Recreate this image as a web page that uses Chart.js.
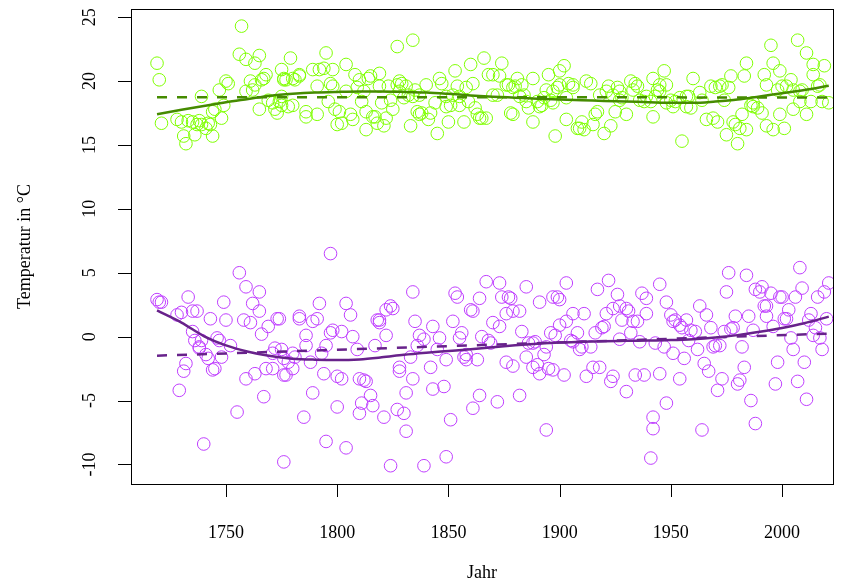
<!DOCTYPE html>
<html>
<head>
<meta charset="utf-8">
<script src="https://cdn.jsdelivr.net/npm/chart.js@4/dist/chart.umd.min.js"></script>
<style>
    html, body { margin: 0; padding: 0; background: #fff; }
    canvas { display: block; }
</style>
</head>
<body>
<canvas id="chart" width="843" height="582"></canvas>
<script>
/* === DATA === */
// July mean temperature per year
const julyYears = [
    1719, 1720, 1721, 1728, 1730, 1731, 1732, 1733, 1735, 1736, 1737, 1738, 1739, 1739, 1741,
    1742, 1743, 1744, 1744, 1745, 1747, 1748, 1749, 1750, 1751, 1756, 1757, 1759, 1759, 1761,
    1762, 1763, 1763, 1765, 1765, 1766, 1767, 1768, 1769, 1771, 1772, 1773, 1774, 1775, 1775,
    1776, 1776, 1777, 1779, 1780, 1781, 1783, 1783, 1778, 1780, 1775, 1786, 1786, 1789, 1791,
    1791, 1792, 1794, 1795, 1797, 1798, 1798, 1796, 1799, 1801, 1800, 1802, 1804, 1804, 1806,
    1807, 1808, 1809, 1810, 1811, 1812, 1813, 1814, 1815, 1813, 1816, 1817, 1818, 1819, 1819,
    1820, 1821, 1822, 1823, 1824, 1825, 1827, 1827, 1828, 1828, 1829, 1830, 1831, 1832, 1833,
    1834, 1834, 1835, 1836, 1837, 1837, 1838, 1840, 1841, 1842, 1844, 1845, 1846, 1847, 1849,
    1849, 1850, 1851, 1852, 1853, 1854, 1855, 1855, 1857, 1858, 1859, 1860, 1861, 1862, 1863,
    1864, 1865, 1866, 1867, 1868, 1870, 1870, 1872, 1873, 1874, 1876, 1877, 1878, 1879, 1879,
    1880, 1881, 1882, 1883, 1884, 1885, 1886, 1888, 1888, 1890, 1891, 1892, 1893, 1894, 1895,
    1896, 1897, 1898, 1897, 1899, 1900, 1900, 1902, 1903, 1903, 1904, 1906, 1906, 1908, 1909,
    1910, 1911, 1912, 1914, 1915, 1916, 1917, 1918, 1920, 1921, 1922, 1923, 1924, 1925, 1926,
    1927, 1927, 1928, 1930, 1932, 1933, 1934, 1935, 1936, 1938, 1939, 1941, 1942, 1942, 1943,
    1944, 1945, 1945, 1947, 1948, 1948, 1950, 1951, 1952, 1954, 1955, 1957, 1957, 1958, 1960,
    1959, 1963, 1964, 1966, 1968, 1969, 1970, 1971, 1972, 1973, 1974, 1975, 1976, 1977, 1978,
    1979, 1980, 1981, 1982, 1983, 1984, 1984, 1986, 1987, 1987, 1989, 1991, 1992, 1993, 1993,
    1995, 1996, 1996, 1998, 1999, 1999, 2000, 2001, 2002, 2004, 2005, 2005, 2007, 2008, 2008,
    2009, 2011, 2011, 2013, 2014, 2014, 2016, 2017, 2018, 2019, 2021
];
const julyTemps = [
    21.4, 20.1, 16.7, 17.0, 16.8, 15.7, 15.1, 16.9, 16.8, 15.8, 16.6, 16.9, 16.6, 18.8, 16.3,
    16.7, 16.6, 15.7, 17.6, 17.8, 19.3, 17.1, 18.1, 20.0, 19.8, 22.1, 24.3, 19.2, 21.7, 20.0,
    19.3, 19.7, 21.4, 22.0, 17.8, 20.1, 20.2, 20.5, 18.5, 18.3, 17.8, 17.5, 18.4, 18.1, 20.9,
    20.1, 20.2, 20.1, 21.8, 20.2, 20.1, 20.4, 20.5, 18.0, 18.1, 18.8, 17.6, 17.2, 20.9, 17.4,
    19.6, 20.9, 21.0, 22.2, 19.8, 20.9, 19.6, 18.4, 17.8, 17.6, 16.6, 16.7, 21.3, 19.2, 17.4,
    17.0, 20.5, 19.5, 20.1, 18.4, 19.2, 17.6, 20.2, 20.4, 16.2, 17.2, 17.2, 16.7, 20.6, 19.6,
    18.3, 16.5, 17.1, 19.6, 18.5, 17.8, 22.7, 19.7, 20.0, 19.2, 19.8, 18.7, 19.6, 18.9, 16.5,
    18.8, 23.2, 19.3, 17.6, 17.4, 18.9, 17.5, 19.7, 17.0, 17.5, 18.3, 15.9, 20.2, 19.8, 18.8,
    18.0, 16.8, 18.1, 18.9, 20.8, 19.6, 18.8, 18.1, 16.8, 19.5, 18.4, 21.3, 19.8, 17.9, 17.4,
    17.1, 17.1, 21.8, 17.1, 20.5, 20.5, 18.9, 18.9, 20.4, 21.4, 19.7, 19.7, 17.5, 17.4, 19.5,
    19.6, 20.2, 18.8, 19.7, 18.9, 18.4, 17.9, 20.2, 16.8, 18.4, 18.0, 18.1, 18.7, 19.3, 20.5,
    18.5, 19.2, 15.7, 18.3, 19.5, 19.7, 20.8, 21.2, 17.0, 18.7, 19.8, 19.7, 19.5, 16.3, 16.3,
    16.8, 16.2, 20.0, 19.8, 16.6, 17.4, 17.6, 18.9, 15.9, 19.2, 19.6, 16.5, 18.9, 17.6, 19.5,
    19.2, 18.5, 18.7, 17.4, 20.0, 19.3, 19.8, 19.6, 18.5, 18.4, 18.8, 18.4, 20.2, 17.2, 18.8,
    19.3, 19.7, 19.2, 20.8, 19.7, 18.3, 18.5, 18.0, 18.4, 18.7, 15.3, 18.8, 18.0, 18.8, 20.2,
    17.9, 19.1, 18.5, 17.0, 19.6, 17.1, 19.5, 16.8, 19.6, 19.7, 18.5, 15.8, 19.5, 20.4, 16.8,
    16.6, 15.1, 16.3, 17.4, 20.4, 21.4, 16.2, 18.1, 18.0, 18.3, 17.9, 17.5, 20.5, 19.7, 16.5,
    22.8, 21.4, 16.2, 19.3, 17.4, 20.8, 19.6, 16.3, 19.6, 20.1, 17.8, 19.3, 23.2, 18.4, 19.2,
    19.3, 22.2, 17.4, 18.4, 20.5, 21.3, 19.6, 19.7, 18.4, 21.2, 18.3
];

// January mean temperature per year
const janYears = [
    1719, 1720, 1721, 1728, 1730, 1731, 1732, 1733, 1735, 1735, 1737, 1736, 1738, 1738, 1739,
    1729, 1740, 1741, 1742, 1743, 1744, 1745, 1746, 1747, 1748, 1749, 1750, 1752, 1755, 1756,
    1758, 1759, 1759, 1761, 1762, 1763, 1765, 1765, 1766, 1767, 1768, 1769, 1771, 1771, 1772,
    1773, 1775, 1776, 1776, 1774, 1776, 1777, 1778, 1780, 1780, 1781, 1783, 1783, 1785, 1786,
    1786, 1788, 1789, 1789, 1791, 1792, 1793, 1794, 1795, 1795, 1797, 1797, 1798, 1800, 1800,
    1802, 1802, 1804, 1804, 1806, 1807, 1809, 1810, 1810, 1811, 1812, 1813, 1815, 1816, 1817,
    1818, 1819, 1819, 1821, 1822, 1822, 1824, 1825, 1824, 1827, 1828, 1828, 1830, 1831, 1831,
    1833, 1834, 1834, 1835, 1836, 1837, 1839, 1839, 1842, 1843, 1843, 1845, 1846, 1848, 1849,
    1849, 1851, 1852, 1853, 1854, 1855, 1856, 1857, 1858, 1858, 1860, 1861, 1861, 1863, 1864,
    1864, 1865, 1867, 1868, 1869, 1870, 1872, 1873, 1873, 1874, 1876, 1876, 1877, 1878, 1879,
    1879, 1882, 1882, 1883, 1885, 1885, 1886, 1888, 1888, 1889, 1890, 1891, 1891, 1893, 1894,
    1894, 1895, 1896, 1897, 1897, 1898, 1899, 1900, 1900, 1902, 1903, 1903, 1905, 1906, 1906,
    1908, 1909, 1910, 1911, 1912, 1914, 1915, 1916, 1917, 1918, 1919, 1920, 1921, 1922, 1923,
    1924, 1924, 1926, 1927, 1927, 1928, 1930, 1930, 1931, 1932, 1933, 1934, 1935, 1936, 1937,
    1938, 1939, 1939, 1941, 1942, 1942, 1943, 1945, 1945, 1947, 1948, 1948, 1950, 1951, 1951,
    1952, 1954, 1954, 1955, 1956, 1957, 1958, 1959, 1961, 1962, 1963, 1964, 1965, 1966, 1967,
    1968, 1969, 1970, 1971, 1972, 1973, 1974, 1975, 1976, 1977, 1978, 1979, 1980, 1981, 1982,
    1983, 1984, 1985, 1986, 1987, 1988, 1988, 1990, 1991, 1992, 1993, 1993, 1995, 1996, 1997,
    1998, 1999, 2000, 2001, 2002, 2003, 2004, 2005, 2006, 2007, 2008, 2009, 2010, 2011, 2012,
    2013, 2014, 2015, 2016, 2017, 2018, 2019, 2020, 2021
];
const janTemps = [
    2.9, 2.7, 2.7, 1.7, 1.9, -2.7, -2.1, 3.1, 0.4, 2.0, 2.0, -0.3, -0.8, -0.9, -0.3,
    -4.2, -8.4, -1.4, -1.7, 1.4, -2.6, -2.5, -0.1, -0.3, -1.6, 2.7, 1.3, -0.7, -5.9, 5.0,
    1.3, 3.9, -3.3, 1.1, 2.6, -2.9, 3.5, 2.0, 0.2, -4.7, -2.5, 0.8, -1.3, -2.5, -0.9,
    1.4, -1.0, -3.0, -9.8, 1.4, -1.7, -3.0, -2.0, -1.3, -2.5, -1.6, 1.4, 1.6, -6.3, -0.7,
    0.1, -2.0, 1.2, -4.4, 1.4, 2.6, -1.3, -2.9, -0.7, -8.2, 6.5, 0.3, 0.5, -3.1, -5.5,
    0.4, -3.3, -8.7, 2.6, 1.7, 0.0, -1.0, -6.0, -3.3, -5.2, -3.4, -3.5, -4.6, -5.4, -0.7,
    1.3, 1.1, 1.3, -6.3, 0.1, 2.1, 2.4, 2.2, -10.1, -5.7, -2.4, -2.7, -6.0, -7.4, -4.4,
    -1.6, -3.3, 3.5, 1.2, -0.7, 0.1, -0.2, -10.1, -2.4, -4.1, 0.8, -1.0, -0.1, -3.9, -9.4,
    -1.8, -6.5, 1.2, 3.4, 3.1, -0.1, 0.3, -1.6, -1.8, -1.4, 2.1, 2.0, -5.6, -1.8, 3.0,
    -4.6, 0.0, 4.3, -0.3, -0.5, 1.1, -5.1, 0.8, 4.2, 3.1, 1.8, -2.0, 3.1, 3.0, 2.0,
    -2.3, -4.6, 2.0, 0.4, 3.9, -1.6, -0.5, -0.5, -2.4, -0.4, -2.2, 2.7, -2.9, -1.4, -7.3,
    -0.8, -2.5, 0.3, -2.6, 3.1, 0.1, 3.1, 2.9, 0.9, -3.0, 4.2, 1.2, -0.3, -0.4, 1.8,
    0.3, -1.0, -0.8, 1.8, -3.1, -0.8, -2.4, 0.3, 3.7, -2.4, 0.7, 0.8, 1.8, 4.4, -3.5,
    2.2, -3.1, 3.3, -0.2, 2.4, 1.3, -4.3, 2.2, 2.0, 0.3, 1.2, -3.0, 1.2, -0.4, 3.4,
    -3.0, 1.8, 3.0, -9.5, -6.3, -7.2, -0.5, 4.1, -2.9, -0.8, -5.2, 2.7, 1.7, -1.3, 1.2,
    1.3, 0.9, -3.3, 0.7, -1.7, 1.3, -0.3, 0.5, 0.4, -1.0, 2.4, -7.3, -2.1, 1.7, -2.7,
    0.7, -0.8, -0.7, -4.2, -0.7, -3.3, 0.4, 3.5, 5.0, 0.6, 0.7, 1.6, -3.7, -3.4, -0.8,
    -2.4, 4.8, 1.6, -5.0, 0.5, -6.8, 3.7, 3.5, 3.9, 2.4, 1.6, 2.4, 3.4, 0.8, -3.7,
    -2.0, 3.1, 3.1, 1.4, 1.4, 2.1, -0.1, -1.0, 3.1, -3.5, 5.4, 3.8, -2.0, -4.9, 1.3,
    1.8, 0.1, 0.7, 3.1, -0.1, -1.0, 3.5, 1.4, 4.2
];

// Smoothed course of both series
const smoothYears = [
    1719, 1730, 1740, 1750, 1760, 1770, 1780, 1790, 1800, 1810, 1820, 1830, 1840, 1850, 1860, 1870,
    1880, 1890, 1900, 1910, 1920, 1930, 1940, 1950, 1960, 1970, 1980, 1990, 2000, 2010, 2021
];
const julySmooth = [
    17.4, 17.75, 18.05, 18.35, 18.6, 18.85, 19.0, 19.1, 19.15, 19.18, 19.18, 19.15, 19.1, 19.0, 18.88, 18.78,
    18.7, 18.62, 18.55, 18.5, 18.45, 18.4, 18.35, 18.3, 18.3, 18.4, 18.55, 18.8, 19.05, 19.3, 19.63
];
const janSmooth = [
    2.05, 1.1, 0.05, -0.68, -1.18, -1.52, -1.72, -1.8, -1.83, -1.78, -1.62, -1.42, -1.26, -1.12, -0.98, -0.82,
    -0.68, -0.55, -0.45, -0.4, -0.36, -0.33, -0.3, -0.27, -0.2, -0.07, 0.12, 0.38, 0.68, 1.05, 1.57
];

// Linear trends
const trendYears = [1719, 2021];
const julyTrend = [18.74, 18.72];
const janTrend = [-1.49, 0.24];

// Axes
const xTicks = [1750, 1800, 1850, 1900, 1950, 2000];
const yTicks = [-10, -5, 0, 5, 10, 15, 20, 25];
const xTitle = "Jahr";
const yTitle = "Temperatur in \u00B0C";

/* === HELPERS === */
function toPoints(xs, ys) {
    return xs.map((x, i) => ({ x: x, y: ys[i] }));
}

const FONT = '18px "Liberation Serif", "Times New Roman", serif';

// R-like frame, ticks and labels drawn from the chart scales
const baseAxes = {
    id: "baseAxes",
    afterDraw(chart) {
        const { ctx, chartArea: a, scales } = chart;
        const xs = scales.x, ys = scales.y;
        const tick = 13;
        ctx.save();
        ctx.strokeStyle = "#000";
        ctx.lineWidth = 1;
        ctx.strokeRect(a.left + 0.5, a.top + 0.5, a.right - a.left, a.bottom - a.top);

        ctx.fillStyle = "#000";
        ctx.font = FONT;

        // x axis
        ctx.beginPath();
        xTicks.forEach(v => {
            const px = Math.round(xs.getPixelForValue(v)) + 0.5;
            ctx.moveTo(px, a.bottom);
            ctx.lineTo(px, a.bottom + tick);
        });
        ctx.stroke();
        ctx.textAlign = "center";
        ctx.textBaseline = "middle";
        xTicks.forEach(v => ctx.fillText(String(v), xs.getPixelForValue(v), 533));
        ctx.fillText(xTitle, (a.left + a.right) / 2, 573);

        // y axis
        ctx.beginPath();
        yTicks.forEach(v => {
            const py = Math.round(ys.getPixelForValue(v)) + 0.5;
            ctx.moveTo(a.left - tick, py);
            ctx.lineTo(a.left, py);
        });
        ctx.stroke();
        yTicks.forEach(v => {
            ctx.save();
            ctx.translate(90, ys.getPixelForValue(v));
            ctx.rotate(-Math.PI / 2);
            ctx.fillText(String(v), 0, 0);
            ctx.restore();
        });
        ctx.save();
        ctx.translate(25, (a.top + a.bottom) / 2);
        ctx.rotate(-Math.PI / 2);
        ctx.fillText(yTitle, 0, 0);
        ctx.restore();

        ctx.restore();
    }
};

/* === CHART === */
const lineStyle = (color, dashed) => ({
    type: "scatter",
    showLine: true,
    borderColor: color,
    borderWidth: 2.5,
    borderDash: dashed ? [10, 10] : [],
    pointRadius: 0,
    tension: dashed ? 0 : 0.4,
    cubicInterpolationMode: "monotone",
    fill: false
});

const circleStyle = color => ({
    type: "scatter",
    showLine: false,
    pointStyle: "circle",
    pointRadius: 6.3,
    pointBorderWidth: 1,
    pointBorderColor: color,
    pointBackgroundColor: "rgba(0,0,0,0)",
    borderColor: color,
    backgroundColor: "rgba(0,0,0,0)"
});

new Chart(document.getElementById("chart"), {
    type: "scatter",
    data: {
        datasets: [
            { label: "Juli Glättung", data: toPoints(smoothYears, julySmooth), ...lineStyle("#458B00", false) },
            { label: "Juli Trend", data: toPoints(trendYears, julyTrend), ...lineStyle("#458B00", true) },
            { label: "Januar Glättung", data: toPoints(smoothYears, janSmooth), ...lineStyle("#68228B", false) },
            { label: "Januar Trend", data: toPoints(trendYears, janTrend), ...lineStyle("#68228B", true) },
            { label: "Juli", data: toPoints(julyYears, julyTemps), ...circleStyle("#7FFF00") },
            { label: "Januar", data: toPoints(janYears, janTemps), ...circleStyle("#BF3EFF") }
        ]
    },
    options: {
        responsive: false,
        animation: false,
        devicePixelRatio: 1,
        layout: { padding: { left: 131, right: 10, top: 9, bottom: 98 } },
        scales: {
            x: { type: "linear", min: 1707.3, max: 2022.9, display: false },
            y: { type: "linear", min: -11.53, max: 25.64, display: false }
        },
        plugins: {
            legend: { display: false },
            tooltip: { enabled: false }
        }
    },
    plugins: [baseAxes]
});
</script>
</body>
</html>
